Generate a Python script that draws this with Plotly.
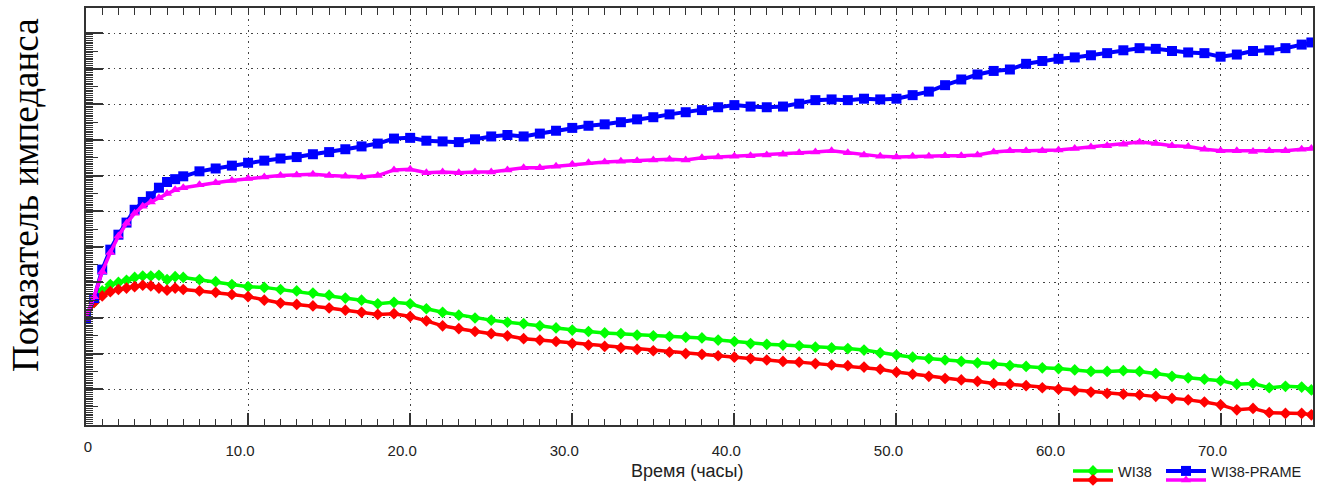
import plotly.graph_objects as go

hours = [0, 0.5, 1, 1.5, 2, 2.5, 3, 3.5, 4, 4.5, 5, 5.5, 6,
         7, 8, 9, 10, 11, 12, 13, 14, 15, 16, 17, 18, 19, 20,
         21, 22, 23, 24, 25, 26, 27, 28, 29, 30,
         31, 32, 33, 34, 35, 36, 37, 38, 39, 40,
         41, 42, 43, 44, 45, 46, 47, 48, 49, 50,
         51, 52, 53, 54, 55, 56, 57, 58, 59, 60,
         61, 62, 63, 64, 65, 66, 67, 68, 69, 70,
         71, 72, 73, 74, 75, 75.6]

wi38_a = [1.00, 1.22, 1.38, 1.47, 1.50, 1.53, 1.57, 1.59, 1.59, 1.60, 1.54, 1.58, 1.57,
          1.54, 1.51, 1.47, 1.44, 1.43, 1.40, 1.38, 1.35, 1.32, 1.28,
          1.25, 1.20, 1.22, 1.20, 1.13, 1.08, 1.04, 1.00, 0.97, 0.94,
          0.92, 0.89, 0.86, 0.83,
          0.81, 0.79, 0.78, 0.76, 0.75, 0.74, 0.73, 0.72, 0.69, 0.67,
          0.64, 0.63, 0.62, 0.61, 0.59, 0.58, 0.57, 0.55, 0.51, 0.48,
          0.45, 0.43, 0.41, 0.39, 0.37, 0.35, 0.33, 0.32, 0.30, 0.29,
          0.27, 0.25, 0.25, 0.26, 0.25, 0.22, 0.18, 0.16, 0.14, 0.12,
          0.07, 0.08, 0.02, 0.04, 0.03, -0.01]

wi38_b = [1.00, 1.22, 1.31, 1.37, 1.40, 1.42, 1.44, 1.46, 1.45, 1.42, 1.39, 1.42, 1.40,
          1.38, 1.36, 1.33, 1.30, 1.25, 1.21, 1.19, 1.17, 1.14, 1.11,
          1.08, 1.05, 1.06, 1.02, 0.96, 0.89, 0.85, 0.81, 0.78, 0.75,
          0.71, 0.69, 0.67, 0.64,
          0.62, 0.60, 0.58, 0.56, 0.54, 0.52, 0.50, 0.49, 0.47, 0.45,
          0.43, 0.41, 0.39, 0.38, 0.36, 0.34, 0.33, 0.31, 0.28, 0.24,
          0.21, 0.18, 0.15, 0.13, 0.11, 0.08, 0.07, 0.05, 0.02, 0.00,
          -0.02, -0.04, -0.06, -0.07, -0.08, -0.10, -0.13, -0.15, -0.18, -0.22,
          -0.29, -0.27, -0.33, -0.34, -0.34, -0.36]

prame_a = [1.00, 1.28, 1.68, 1.96, 2.17, 2.34, 2.52, 2.63, 2.71, 2.83, 2.91, 2.95, 2.99,
           3.06, 3.10, 3.14, 3.18, 3.21, 3.24, 3.26, 3.30, 3.33, 3.37,
           3.41, 3.45, 3.52, 3.53, 3.49, 3.48, 3.47, 3.51, 3.55, 3.57,
           3.55, 3.59, 3.63, 3.67,
           3.70, 3.72, 3.75, 3.79, 3.82, 3.86, 3.89, 3.92, 3.96, 3.99,
           3.97, 3.96, 3.97, 4.01, 4.06, 4.07, 4.06, 4.08, 4.07, 4.08,
           4.13, 4.18, 4.27, 4.35, 4.42, 4.47, 4.49, 4.57, 4.61, 4.64,
           4.66, 4.69, 4.72, 4.76, 4.79, 4.78, 4.75, 4.73, 4.72, 4.67,
           4.70, 4.75, 4.76, 4.79, 4.84, 4.87]

prame_b = [1.00, 1.30, 1.65, 1.92, 2.15, 2.33, 2.47, 2.57, 2.63, 2.69, 2.75, 2.80, 2.83,
           2.87, 2.90, 2.93, 2.96, 2.98, 3.00, 3.01, 3.02, 3.00, 2.99,
           2.98, 3.00, 3.08, 3.09, 3.04, 3.05, 3.04, 3.05, 3.05, 3.08,
           3.11, 3.11, 3.13, 3.16,
           3.18, 3.19, 3.20, 3.21, 3.22, 3.23, 3.22, 3.25, 3.26, 3.27,
           3.28, 3.29, 3.30, 3.32, 3.33, 3.35, 3.32, 3.29, 3.27, 3.26,
           3.27, 3.27, 3.28, 3.28, 3.29, 3.33, 3.35, 3.35, 3.35, 3.36,
           3.38, 3.40, 3.42, 3.44, 3.47, 3.45, 3.42, 3.41, 3.37, 3.35,
           3.35, 3.34, 3.35, 3.35, 3.37, 3.38]

x_ticks = [10, 20, 30, 40, 50, 60, 70]
x_labels = ["10.0", "20.0", "30.0", "40.0", "50.0", "60.0", "70.0"]
y_grid = [0, 0.5, 1.0, 1.5, 2.0, 2.5, 3.0, 3.5, 4.0, 4.5, 5.0]

X_RANGE = [0, 75.7]
Y_RANGE = [-0.503, 5.354]

series = [
    ("WI38", wi38_a, "#00ff00", "diamond", 9, 3.5, "legend"),
    (" ", wi38_b, "#ff0000", "diamond", 9, 3.5, "legend2"),
    ("WI38-PRAME", prame_a, "#0000ff", "square", 10, 4, "legend3"),
    ("  ", prame_b, "#ff00ff", "triangle-up", 9, 3.5, "legend4"),
]

fig = go.Figure()
for name, vals, color, sym, size, lw, leg in series:
    fig.add_trace(go.Scatter(
        x=hours, y=vals, mode="lines+markers", name=name, legend=leg,
        line=dict(color=color, width=lw),
        marker=dict(symbol=sym, size=size, color=color, line=dict(width=0)),
    ))

# empty helper traces so that the overlay (decoration-only) axes get drawn
for xa, ya in [("x2", "y"), ("x3", "y"), ("x", "y2")]:
    fig.add_trace(go.Scatter(x=[], y=[], xaxis=xa, yaxis=ya, showlegend=False,
                             hoverinfo="skip", mode="markers", legend="legend4"))

minor_x = [v for v in range(1, 76)]
minor_y = [round(-0.5 + 0.025 * i, 3) for i in range(0, 221)]
mid_y = [round(-0.25 + 0.5 * i, 3) for i in range(0, 11)]

tickfont = dict(family="Liberation Sans, Arial, sans-serif", size=15, color="#222")
legfont = dict(family="Liberation Sans, Arial, sans-serif", size=14.5, color="#222")


def leg(x, y):
    return dict(orientation="h", xref="container", yref="container",
                x=x / 1325, xanchor="left", y=(486 - y) / 486, yanchor="middle",
                font=legfont, bgcolor="rgba(0,0,0,0)", itemwidth=40)


fig.update_layout(
    width=1325, height=486,
    margin=dict(l=86, r=12, t=8, b=61, autoexpand=False),
    paper_bgcolor="white", plot_bgcolor="white",
    showlegend=True,
    xaxis=dict(
        range=X_RANGE, tickvals=x_ticks, ticktext=x_labels, automargin=False,
        ticks="inside", ticklen=12, tickwidth=1.5, tickcolor="#333",
        showgrid=True, gridcolor="#444", gridwidth=1, griddash="1.5px,4px",
        showline=True, linecolor="#333", linewidth=1.5, mirror=True,
        zeroline=False, tickfont=tickfont, ticklabelshift=-8, ticklabelstandoff=11,
        minor=dict(ticks="inside", ticklen=6, tickvals=minor_x, tickcolor="#333",
                   tickwidth=1, showgrid=False),
    ),
    xaxis2=dict(
        overlaying="x", anchor="y", side="bottom", range=X_RANGE, automargin=False,
        tickvals=[0], ticktext=["0"], ticks="", showgrid=False, showline=False,
        zeroline=False, tickfont=tickfont, ticklabelshift=2, ticklabelstandoff=11,
    ),
    xaxis3=dict(
        overlaying="x", anchor="y", side="top", range=X_RANGE, automargin=False,
        tickvals=minor_x, ticks="inside", ticklen=7, tickcolor="#333",
        showticklabels=False, showgrid=False, showline=False, zeroline=False,
    ),
    yaxis=dict(
        range=Y_RANGE, tickvals=y_grid, showticklabels=False, automargin=False,
        ticks="inside", ticklen=17, tickwidth=1.5, tickcolor="#333",
        showgrid=True, gridcolor="#444", gridwidth=1, griddash="1.5px,4px",
        showline=True, linecolor="#333", linewidth=1.5, mirror=True,
        zeroline=False,
        minor=dict(ticks="inside", ticklen=7, tickvals=minor_y, tickcolor="#333",
                   tickwidth=1, showgrid=False),
    ),
    yaxis2=dict(
        overlaying="y", anchor="x", side="left", range=Y_RANGE, automargin=False,
        tickvals=mid_y, ticks="inside", ticklen=12, tickcolor="#333", tickwidth=1,
        showticklabels=False, showgrid=False, showline=False, zeroline=False,
    ),
    legend=leg(1068, 471),
    legend2=leg(1068, 480),
    legend3=leg(1161, 471),
    legend4=leg(1161, 480),
    annotations=[
        dict(text="Показатель импеданса", xref="paper", yref="paper",
             x=(25 - 86) / 1227, y=(425 - 195) / 417, textangle=-90,
             showarrow=False, xanchor="center", yanchor="middle",
             font=dict(family="Liberation Serif, Times New Roman, serif", size=37, color="black")),
        dict(text="Время (часы)", xref="paper", yref="paper",
             x=(687 - 86) / 1227, y=(425 - 471) / 417,
             showarrow=False, xanchor="center", yanchor="middle",
             font=dict(family="Liberation Sans, Arial, sans-serif", size=18, color="#222")),
    ],
)

fig.write_html("out.html")
